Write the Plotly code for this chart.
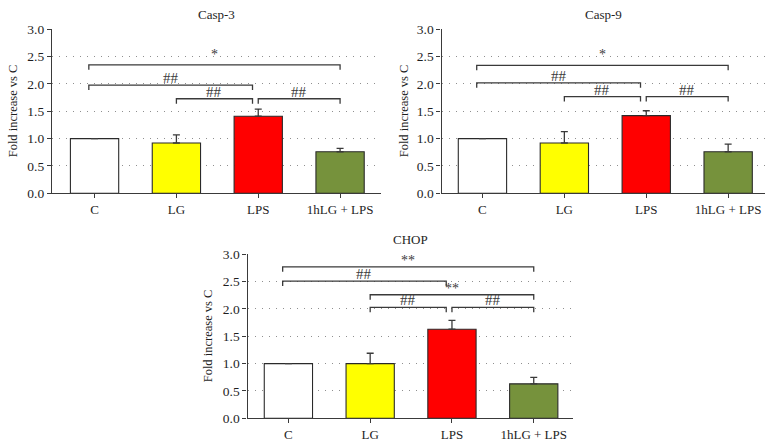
import plotly.graph_objects as go

# categories and values
groups = ["C", "LG", "LPS", "1hLG + LPS"]
colors = ["#FFFFFF", "#FFFF00", "#FF0000", "#76923C"]

casp3 = [1.0, 0.92, 1.41, 0.76]
casp3_err = [None, 0.15, 0.13, 0.06]
casp9 = [1.0, 0.92, 1.42, 0.76]
casp9_err = [None, 0.21, 0.09, 0.14]
chop = [1.0, 1.0, 1.63, 0.63]
chop_err = [None, 0.19, 0.16, 0.12]

# significance brackets: (from group, to group, height, label)
casp3_sig = [(0, 3, 2.35, "*"), (0, 2, 1.98, "##"), (1, 2, 1.73, "##"), (2, 3, 1.73, "##")]
casp9_sig = [(0, 3, 2.34, "*"), (0, 2, 2.02, "##"), (1, 2, 1.77, "##"), (2, 3, 1.77, "##")]
chop_sig = [(0, 3, 2.77, "**"), (0, 2, 2.51, "##"), (1, 3, 2.26, "**"),
            (1, 2, 2.03, "##"), (2, 3, 2.03, "##")]

titles = ["Casp-3", "Casp-9", "CHOP"]
ytitle = "Fold increase vs C"

W, H = 777, 446
FONT = "Liberation Serif"
DARK = "#3a3a3a"
TXT = "#1e1e1e"

# panel boxes in pixels: left, right, top, bottom, x-range
panels = [
    (52, 381, 29.3, 193.3, [-0.52, 3.5]),
    (441.5, 765, 29.3, 193.3, [-0.5, 3.45]),
    (247.5, 573, 254.3, 418.3, [-0.5, 3.48]),
]
ytitle_x = [13, 404, 208]
star_shift = {"*": 1, "**": -3, "##": -3}

fig = go.Figure()
annotations = []
layout = {}

series = [(casp3, casp3_err, casp3_sig), (casp9, casp9_err, casp9_sig), (chop, chop_err, chop_sig)]

for i, ((vals, errs, sig), (l, r, t, b, xr)) in enumerate(zip(series, panels)):
    n = "" if i == 0 else str(i + 1)
    xa, ya = "x" + n, "y" + n

    fig.add_trace(go.Bar(
        x=list(range(len(groups))), y=vals, width=0.59,
        marker=dict(color=colors, line=dict(color="#2a2a2a", width=1.1)),
        error_y=dict(type="data", symmetric=False, array=errs, arrayminus=[0] * len(errs),
                     color=DARK, thickness=1.3, width=3.5),
        xaxis=xa, yaxis=ya, showlegend=False, hoverinfo="skip"))

    for s, e, h, lab in sig:
        x0 = s - 0.07 if s == 0 else s
        x1 = e - 0.07 if e == 2 else e
        fig.add_trace(go.Scatter(
            x=[x0, x0, x1, x1], y=[h - 0.09, h, h, h - 0.09], mode="lines",
            line=dict(color=DARK, width=1.3), xaxis=xa, yaxis=ya,
            showlegend=False, hoverinfo="skip"))
        annotations.append(dict(
            x=(x0 + x1) / 2, y=h, xref=xa, yref=ya, text=lab, showarrow=False,
            yanchor="bottom", yshift=star_shift[lab],
            font=dict(family=FONT, size=15 if lab == "##" else 14, color=DARK)))

    layout["xaxis" + n] = dict(
        domain=[l / W, r / W], range=xr, anchor=ya,
        tickmode="array", tickvals=list(range(len(groups))), ticktext=groups,
        showline=True, linecolor=DARK, linewidth=1.2, ticks="outside", ticklen=4,
        tickcolor=DARK, showgrid=False, zeroline=False, automargin=False,
        tickfont=dict(family=FONT, size=13, color=TXT), fixedrange=True)
    layout["yaxis" + n] = dict(
        domain=[1 - b / H, 1 - t / H], range=[0, 3], anchor=xa,
        tickvals=[0, 0.5, 1, 1.5, 2, 2.5, 3], tickformat=".1f",
        showline=True, linecolor=DARK, linewidth=1.2, ticks="outside", ticklen=4,
        tickcolor=DARK, showgrid=True, gridcolor="#8f8f8f", gridwidth=1,
        griddash="1px,6px", zeroline=False, automargin=False,
        tickfont=dict(family=FONT, size=13.5, color=TXT), fixedrange=True)

    annotations.append(dict(
        x=(l + r) / 2 / W, y=1 - (t - 15) / H, xref="paper", yref="paper",
        text=titles[i], showarrow=False, xanchor="center", yanchor="middle",
        font=dict(family=FONT, size=13, color=TXT)))
    annotations.append(dict(
        x=ytitle_x[i] / W, y=1 - (t + b) / 2 / H, xref="paper", yref="paper",
        text=ytitle, showarrow=False, textangle=-90, xanchor="center", yanchor="middle",
        font=dict(family=FONT, size=12.5, color=TXT)))

fig.update_layout(
    width=W, height=H, margin=dict(l=0, r=0, t=0, b=0),
    plot_bgcolor="white", paper_bgcolor="white",
    annotations=annotations, **layout)

# drop the browser's default page margin so the figure sits at the window corner
fig.write_html("out.html", config={"displayModeBar": False},
               post_script="document.body.style.margin='0';")
